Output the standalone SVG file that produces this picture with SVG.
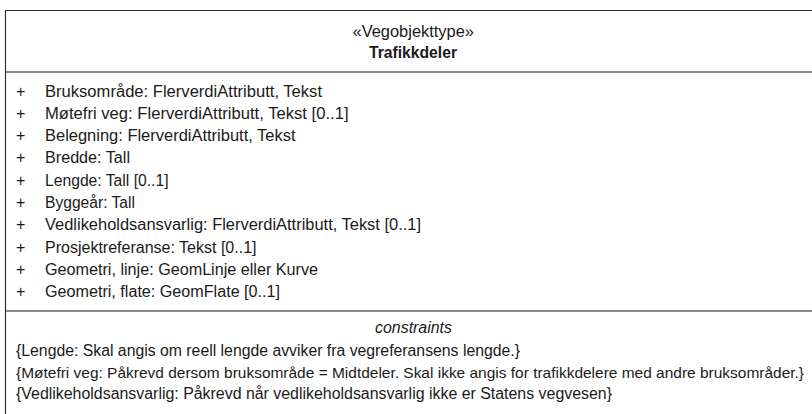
<svg xmlns="http://www.w3.org/2000/svg" width="812" height="414" viewBox="0 0 812 414">
<style>
  .bg { fill: #ffffff; }
  .border { fill: none; stroke: #303030; stroke-width: 1.2; }
  .sep { stroke: #8a8a8a; stroke-width: 2; }
  text { font-family: "Liberation Sans", Arial, sans-serif; font-size: 16px; fill: #1a1a1a; }
  .bold { font-weight: bold; }
  .ital { font-style: italic; }
  .long { font-size: 15px; }
</style>
<rect class="bg" x="0" y="0" width="812" height="414"/>
<g id="connectors"/>
<g id="Trafikkdeler">
  <path class="border" d="M5.5 414 V10.5 H812"/>
  <line class="sep" x1="6" y1="72" x2="812" y2="72"/>
  <line class="sep" x1="6" y1="311" x2="812" y2="311"/>
  <g id="header">
    <text x="352.5" y="36.5" textLength="121.5" lengthAdjust="spacingAndGlyphs">«Vegobjekttype»</text>
    <text class="bold" x="369" y="57.5" textLength="88" lengthAdjust="spacingAndGlyphs">Trafikkdeler</text>
  </g>
  <g id="attributes">
    <text x="16" y="96.5">+</text><text x="45" y="96.5" textLength="277" lengthAdjust="spacingAndGlyphs">Bruksområde: FlerverdiAttributt, Tekst</text>
    <text x="16" y="118.8">+</text><text x="45" y="118.8" textLength="303.5" lengthAdjust="spacingAndGlyphs">Møtefri veg: FlerverdiAttributt, Tekst [0..1]</text>
    <text x="16" y="141.1">+</text><text x="45" y="141.1" textLength="250.5" lengthAdjust="spacingAndGlyphs">Belegning: FlerverdiAttributt, Tekst</text>
    <text x="16" y="163.4">+</text><text x="45" y="163.4" textLength="85" lengthAdjust="spacingAndGlyphs">Bredde: Tall</text>
    <text x="16" y="185.7">+</text><text x="45" y="185.7" textLength="123.5" lengthAdjust="spacingAndGlyphs">Lengde: Tall [0..1]</text>
    <text x="16" y="208">+</text><text x="45" y="208" textLength="90" lengthAdjust="spacingAndGlyphs">Byggeår: Tall</text>
    <text x="16" y="230.3">+</text><text x="45" y="230.3" textLength="376" lengthAdjust="spacingAndGlyphs">Vedlikeholdsansvarlig: FlerverdiAttributt, Tekst [0..1]</text>
    <text x="16" y="252.6">+</text><text x="45" y="252.6" textLength="211.5" lengthAdjust="spacingAndGlyphs">Prosjektreferanse: Tekst [0..1]</text>
    <text x="16" y="274.9">+</text><text x="45" y="274.9" textLength="273" lengthAdjust="spacingAndGlyphs">Geometri, linje: GeomLinje eller Kurve</text>
    <text x="16" y="297.2">+</text><text x="45" y="297.2" textLength="235" lengthAdjust="spacingAndGlyphs">Geometri, flate: GeomFlate [0..1]</text>
  </g>
  <g id="constraints">
    <text class="ital" x="375" y="333" textLength="77" lengthAdjust="spacingAndGlyphs">constraints</text>
    <text x="16" y="356" textLength="504" lengthAdjust="spacingAndGlyphs">{Lengde: Skal angis om reell lengde avviker fra vegreferansens lengde.}</text>
    <text class="long" x="16" y="377.5" textLength="788" lengthAdjust="spacingAndGlyphs">{Møtefri veg: Påkrevd dersom bruksområde = Midtdeler. Skal ikke angis for trafikkdelere med andre bruksområder.}</text>
    <text x="16" y="399" textLength="596" lengthAdjust="spacingAndGlyphs">{Vedlikeholdsansvarlig: Påkrevd når vedlikeholdsansvarlig ikke er Statens vegvesen}</text>
  </g>
</g>
</svg>
